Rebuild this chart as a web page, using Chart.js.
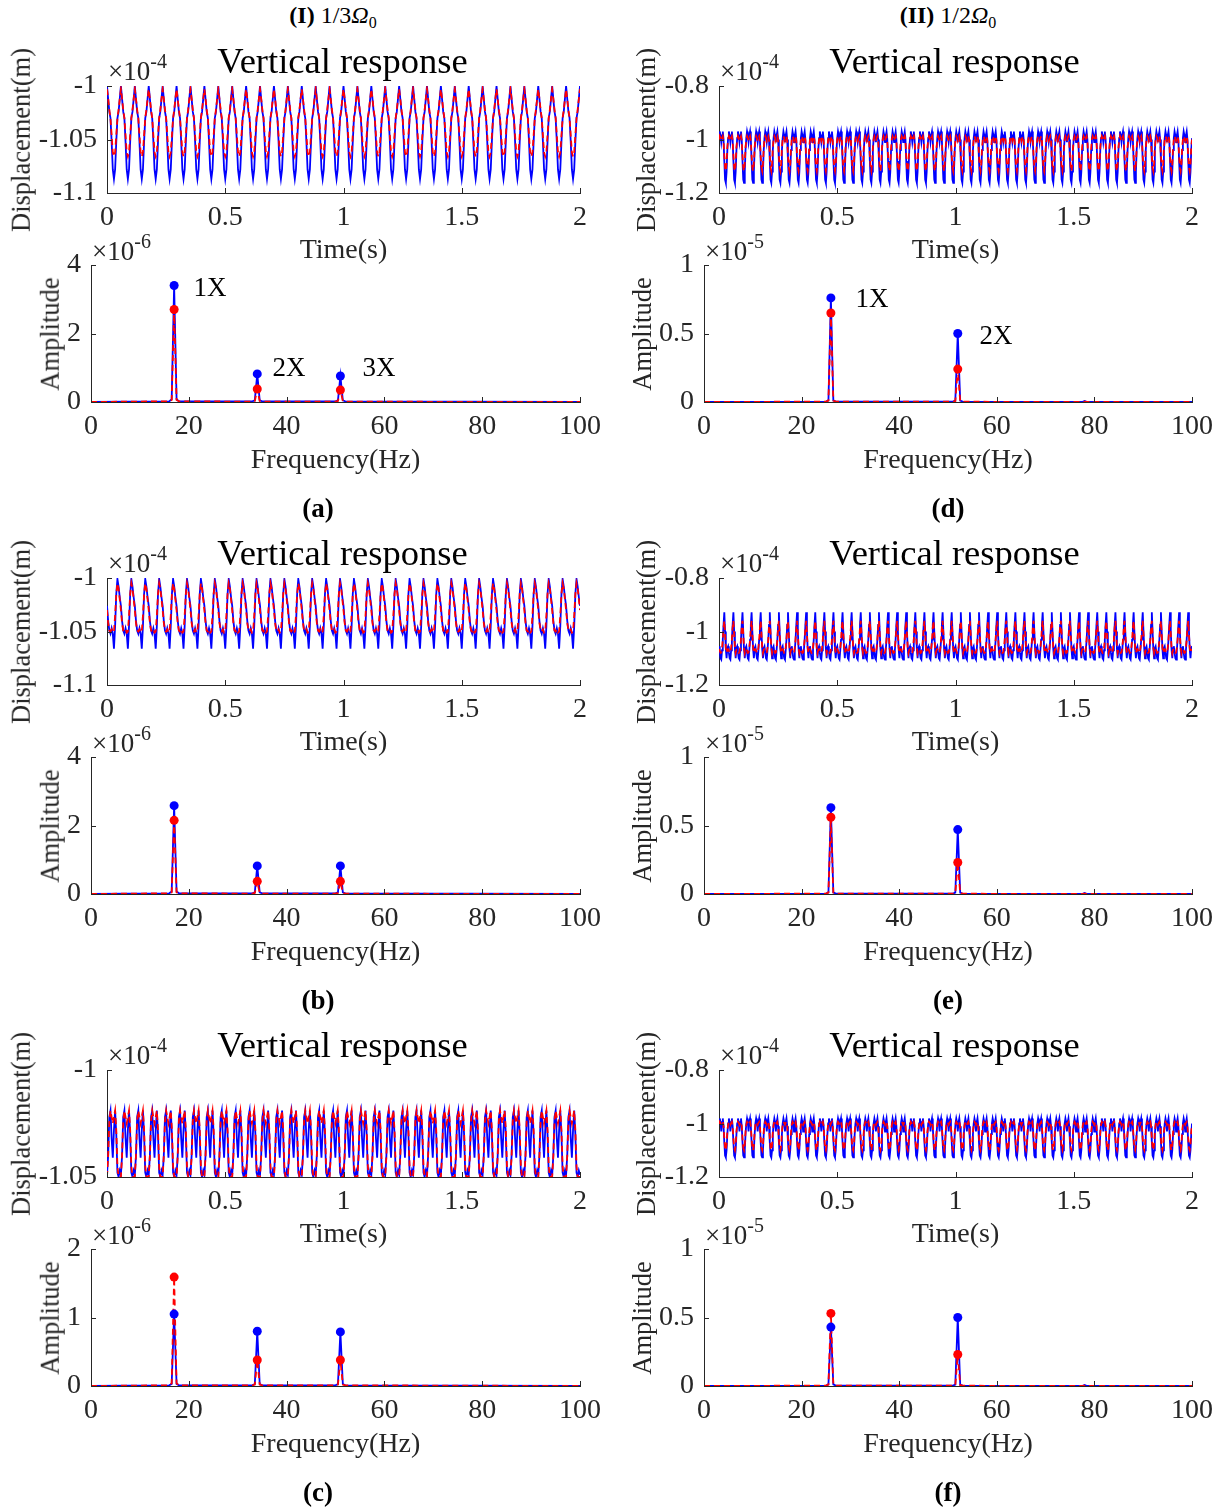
<!DOCTYPE html>
<html>
<head>
<meta charset="utf-8">
<title>Vertical response</title>
<script src="https://cdn.jsdelivr.net/npm/chart.js@4.4.1/dist/chart.umd.min.js"></script>
<style>
  body { margin: 0; background: #fff; font-family: "Liberation Serif", "Times New Roman", serif; color: #262626; }
  #page { position: relative; width: 1225px; height: 1510px; overflow: hidden; }
  #page canvas { position: absolute; }
  .txt { position: absolute; white-space: nowrap; line-height: 1; transform: translate(-50%, -50%); }
  .rot { transform: translate(-50%, -50%) rotate(-90deg); }
  .lab { font-size: 28px; }
  .vlab { font-size: 26.5px; }
  .ttl { font-size: 36.5px; color: #000; }
  .cap { font-size: 27px; font-weight: bold; color: #000; }
  .head { font-size: 24px; color: #000; }
  .head sub { font-size: 16px; }
  .ann { font-size: 27px; color: #000; }
  .exp { position: absolute; font-size: 27px; line-height: 1; transform: translateY(-50%); white-space: nowrap; }
  .exp span { font-size: 20px; position: relative; top: -12px; }
</style>
</head>
<body>
<div id="page"></div>
<script>
// ---- time response: one cycle (x10^-4 m), 12 samples per cycle ----
// left column: 17 Hz over 2 s -> 34 cycles, right column: 26 Hz -> 52 cycles
var cyclesLeft = 34;
var cyclesRight = 52;

var cycA_blue = [-1.000, -1.012, -1.024, -1.030, -1.052, -1.078, -1.087, -1.078, -1.052, -1.030, -1.024, -1.012];
var cycA_red  = [-1.003, -1.012, -1.022, -1.030, -1.046, -1.062, -1.066, -1.062, -1.046, -1.030, -1.022, -1.012];
var cycB_blue = [-1.026, -1.040, -1.049, -1.052, -1.047, -1.052, -1.066, -1.045, -1.015, -1.001, -1.008, -1.018];
var cycB_red  = [-1.030, -1.042, -1.049, -1.050, -1.048, -1.051, -1.050, -1.035, -1.015, -1.005, -1.010, -1.020];
var cycC_blue = [-1.049, -1.040, -1.022, -1.019, -1.032, -1.041, -1.028, -1.019, -1.030, -1.048, -1.050, -1.047];
var cycC_red  = [-1.050, -1.040, -1.024, -1.019, -1.022, -1.025, -1.022, -1.019, -1.028, -1.045, -1.050, -1.050];
var cycD_blue = [-0.995, -0.970, -0.985, -1.010, -0.985, -0.970, -1.000, -1.080, -1.150, -1.162, -1.120, -1.040];
var cycD_red  = [-1.000, -0.988, -0.995, -1.005, -0.995, -0.988, -1.005, -1.060, -1.105, -1.118, -1.090, -1.030];
var cycE_blue = [-1.055, -1.078, -1.100, -1.105, -1.070, -1.030, -0.975, -0.928, -1.000, -1.065, -1.100, -1.062];
var cycE_red  = [-1.066, -1.072, -1.080, -1.078, -1.060, -1.030, -0.985, -0.960, -1.010, -1.060, -1.080, -1.068];
var cycF_blue = [-1.000, -0.981, -0.995, -1.030, -0.995, -0.981, -1.010, -1.070, -1.120, -1.127, -1.100, -1.040];
var cycF_red  = [-1.005, -0.994, -0.998, -1.005, -0.998, -0.994, -1.010, -1.055, -1.092, -1.100, -1.080, -1.030];

// ---- amplitude spectra (x10^-6 left, x10^-5 right) ----
var freqLeft  = [0, 16, 16.5, 17, 17.5, 18, 33, 33.5, 34, 34.5, 35, 50, 50.5, 51, 51.5, 52, 100];
var peakIdxLeft = [3, 8, 13];
var specA_blue = [0, 0.02, 0.08, 3.40, 0.08, 0.02, 0.02, 0.05, 0.82, 0.05, 0.02, 0.02, 0.05, 0.76, 0.05, 0.02, 0];
var specA_red  = [0, 0.02, 0.06, 2.70, 0.06, 0.02, 0.01, 0.03, 0.38, 0.03, 0.01, 0.01, 0.03, 0.35, 0.03, 0.01, 0];
var specB_blue = [0, 0.02, 0.07, 2.58, 0.07, 0.02, 0.02, 0.05, 0.82, 0.05, 0.02, 0.02, 0.05, 0.82, 0.05, 0.02, 0];
var specB_red  = [0, 0.02, 0.05, 2.15, 0.05, 0.02, 0.01, 0.03, 0.37, 0.03, 0.01, 0.01, 0.03, 0.37, 0.03, 0.01, 0];
var specC_blue = [0, 0.01, 0.03, 1.05, 0.03, 0.01, 0.01, 0.03, 0.80, 0.03, 0.01, 0.01, 0.03, 0.79, 0.03, 0.01, 0];
var specC_red  = [0, 0.01, 0.04, 1.59, 0.04, 0.01, 0.01, 0.02, 0.38, 0.02, 0.01, 0.01, 0.02, 0.38, 0.02, 0.01, 0];

var freqRight = [0, 25, 25.5, 26, 26.5, 27, 51, 51.5, 52, 52.5, 53, 77.5, 78, 78.5, 100];
var peakIdxRight = [3, 8];
var specD_blue = [0, 0.003, 0.012, 0.76, 0.012, 0.003, 0.003, 0.010, 0.50, 0.010, 0.003, 0, 0.008, 0, 0];
var specD_red  = [0, 0.003, 0.010, 0.65, 0.010, 0.003, 0.002, 0.006, 0.24, 0.006, 0.002, 0, 0.003, 0, 0];
var specE_blue = [0, 0.003, 0.012, 0.63, 0.012, 0.003, 0.003, 0.010, 0.47, 0.010, 0.003, 0, 0.007, 0, 0];
var specE_red  = [0, 0.003, 0.010, 0.56, 0.010, 0.003, 0.002, 0.006, 0.23, 0.006, 0.002, 0, 0.003, 0, 0];
var specF_blue = [0, 0.003, 0.012, 0.43, 0.012, 0.003, 0.003, 0.010, 0.50, 0.010, 0.003, 0, 0.007, 0, 0];
var specF_red  = [0, 0.003, 0.010, 0.53, 0.010, 0.003, 0.002, 0.006, 0.23, 0.006, 0.002, 0, 0.003, 0, 0];

var BLUE = '#0000ff';
var RED = '#ff0000';
var AXIS = '#262626';
var FONT = '"Liberation Serif", "Times New Roman", serif';

var page = document.getElementById('page');

function tile(cycle, n) {
    var out = [];
    for (var k = 0; k < n; k++) out = out.concat(cycle);
    out.push(cycle[0]);
    return out;
}

function toPoints(xs, ys) {
    return ys.map(function(v, i) { return { x: xs[i], y: v }; });
}

function timeSeries(cycle, n) {
    var vals = tile(cycle, n);
    var last = vals.length - 1;
    return vals.map(function(v, i) { return { x: 2 * i / last, y: v }; });
}

function fmt(v) { return String(+Number(v).toFixed(3)); }

// MATLAB style ticks pointing into the axes
var inwardTicks = {
    id: 'inwardTicks',
    afterDraw: function(chart) {
        var ctx = chart.ctx, a = chart.chartArea;
        var xs = chart.scales.x, ys = chart.scales.y;
        ctx.save();
        ctx.strokeStyle = AXIS;
        ctx.lineWidth = 1;
        ctx.beginPath();
        xs.ticks.forEach(function(t) {
            var px = Math.round(xs.getPixelForValue(t.value)) + 0.5;
            ctx.moveTo(px, a.bottom); ctx.lineTo(px, a.bottom - 5);
        });
        ys.ticks.forEach(function(t) {
            var py = Math.round(ys.getPixelForValue(t.value)) + 0.5;
            ctx.moveTo(a.left, py); ctx.lineTo(a.left + 5, py);
        });
        ctx.stroke();
        ctx.restore();
    }
};

function chartConfig(datasets, xr, yr) {
    return {
        type: 'line',
        data: { datasets: datasets },
        plugins: [inwardTicks],
        options: {
            responsive: false,
            maintainAspectRatio: false,
            animation: false,
            devicePixelRatio: 1,
            layout: { padding: { top: 30, right: 30, left: 0, bottom: 0 } },
            plugins: { legend: { display: false }, tooltip: { enabled: false } },
            scales: {
                x: {
                    type: 'linear', min: xr[0], max: xr[1],
                    afterFit: function(s) { s.height = 45; },
                    grid: { display: false, drawTicks: false },
                    border: { color: AXIS, width: 1 },
                    ticks: { stepSize: xr[2], color: AXIS, padding: 8, maxRotation: 0, autoSkip: false,
                             font: { family: FONT, size: 28 }, callback: fmt }
                },
                y: {
                    type: 'linear', min: yr[0], max: yr[1],
                    afterFit: function(s) { s.width = 90; },
                    grid: { display: false, drawTicks: false },
                    border: { color: AXIS, width: 1 },
                    ticks: { stepSize: yr[2], color: AXIS, padding: 10, autoSkip: false,
                             font: { family: FONT, size: 28 }, callback: fmt }
                }
            }
        }
    };
}

// build the chart, then resize the canvas until its plot area matches the wanted box
function addChart(left, top, right, bottom, makeSets, xr, yr) {
    var c = document.createElement('canvas');
    page.appendChild(c);
    var w = (right - left) + 120, h = (bottom - top) + 75;
    var chart, a;
    for (var pass = 0; pass < 4; pass++) {
        c.width = w; c.height = h;
        chart = new Chart(c.getContext('2d'), chartConfig(makeSets(), xr, yr));
        a = chart.chartArea;
        var dw = (right - left) - (a.right - a.left);
        var dh = (bottom - top) - (a.bottom - a.top);
        if (Math.abs(dw) < 0.5 && Math.abs(dh) < 0.5) break;
        chart.destroy();
        w += Math.round(dw); h += Math.round(dh);
    }
    c.style.left = (left - a.left) + 'px';
    c.style.top = (top - a.top) + 'px';
}

function lineSet(points, color, dashed) {
    return {
        data: points, borderColor: color, borderWidth: 1.8, pointRadius: 0,
        borderDash: dashed ? [6, 4] : [], tension: 0, fill: false
    };
}

function markerSet(xs, ys, idx, color) {
    return {
        data: idx.map(function(i) { return { x: xs[i], y: ys[i] }; }),
        showLine: false, pointRadius: 4.5, pointBorderWidth: 0,
        pointBackgroundColor: color, borderColor: color
    };
}

function addText(html, x, y, cls) {
    var d = document.createElement('div');
    d.className = cls;
    d.innerHTML = html;
    d.style.left = x + 'px';
    d.style.top = y + 'px';
    page.appendChild(d);
}

var panels = [
    { col: 0, row: 0, cap: '(a)', tb: cycA_blue, tr: cycA_red, ty: [-1.1, -1, 0.05], sb: specA_blue, sr: specA_red, sy: [0, 4, 2] },
    { col: 0, row: 1, cap: '(b)', tb: cycB_blue, tr: cycB_red, ty: [-1.1, -1, 0.05], sb: specB_blue, sr: specB_red, sy: [0, 4, 2] },
    { col: 0, row: 2, cap: '(c)', tb: cycC_blue, tr: cycC_red, ty: [-1.05, -1, 0.05], sb: specC_blue, sr: specC_red, sy: [0, 2, 1] },
    { col: 1, row: 0, cap: '(d)', tb: cycD_blue, tr: cycD_red, ty: [-1.2, -0.8, 0.2], sb: specD_blue, sr: specD_red, sy: [0, 1, 0.5] },
    { col: 1, row: 1, cap: '(e)', tb: cycE_blue, tr: cycE_red, ty: [-1.2, -0.8, 0.2], sb: specE_blue, sr: specE_red, sy: [0, 1, 0.5] },
    { col: 1, row: 2, cap: '(f)', tb: cycF_blue, tr: cycF_red, ty: [-1.2, -0.8, 0.2], sb: specF_blue, sr: specF_red, sy: [0, 1, 0.5] }
];

panels.forEach(function(p) {
    var dy = 492 * p.row;
    var left = p.col === 0;
    var n = left ? cyclesLeft : cyclesRight;
    var freq = left ? freqLeft : freqRight;
    var peaks = left ? peakIdxLeft : peakIdxRight;
    var tL = left ? 107 : 719, tR = left ? 580 : 1192;
    var sL = left ? 91 : 704, sR = left ? 580 : 1192;

    addChart(tL, 86 + dy, tR, 193 + dy, function() {
        return [lineSet(timeSeries(p.tr, n), RED, true), lineSet(timeSeries(p.tb, n), BLUE, false)];
    }, [0, 2, 0.5], p.ty);

    addChart(sL, 265 + dy, sR, 402 + dy, function() {
        return [
            markerSet(freq, p.sr, peaks, RED),
            markerSet(freq, p.sb, peaks, BLUE),
            lineSet(toPoints(freq, p.sr), RED, true),
            lineSet(toPoints(freq, p.sb), BLUE, false)
        ];
    }, [0, 100, 20], p.sy);

    var tc = (tL + tR) / 2, sc = (sL + sR) / 2;
    addText('Vertical response', tc - 1, 61 + dy, 'txt ttl');
    addText('×10<span>-4</span>', tL + 1, 71 + dy, 'exp');
    addText('Displacement(m)', left ? 21 : 646, 140 + dy, 'txt rot vlab');
    addText('Time(s)', tc, 249 + dy, 'txt lab');
    addText('×10<span>' + (left ? '-6' : '-5') + '</span>', sL + 1, 251 + dy, 'exp');
    addText('Amplitude', left ? 50 : 642, 334 + dy, 'txt rot vlab');
    addText('Frequency(Hz)', sc, 459 + dy, 'txt lab');
    addText(p.cap, left ? 318 : 948, 508 + dy, 'txt cap');
});

addText('<b>(I)</b> 1/3<i>Ω</i><sub>0</sub>', 333, 17, 'txt head');
addText('<b>(II)</b> 1/2<i>Ω</i><sub>0</sub>', 948, 17, 'txt head');

addText('1X', 210, 287, 'txt ann');
addText('2X', 289, 367, 'txt ann');
addText('3X', 379, 367, 'txt ann');
addText('1X', 872, 298, 'txt ann');
addText('2X', 996, 335, 'txt ann');
</script>
</body>
</html>
